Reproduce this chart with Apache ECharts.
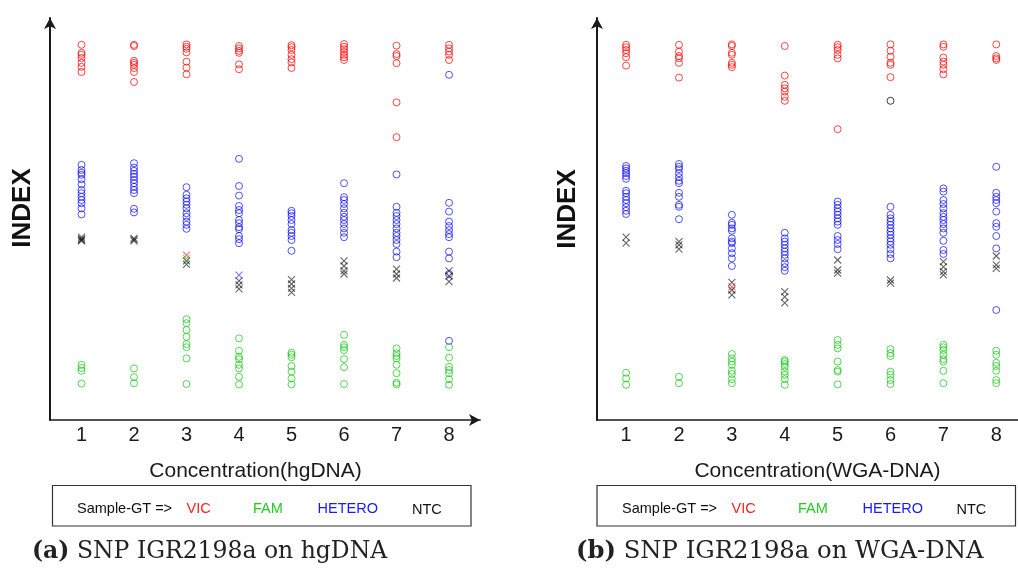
<!DOCTYPE html>
<html>
<head>
<meta charset="utf-8">
<script src="https://cdn.jsdelivr.net/npm/echarts@6/dist/echarts.min.js"></script>
<style>
html,body{margin:0;padding:0;background:#fff;}
#chart{width:1018px;height:568px;}
</style>
</head>
<body>
<div id="chart"></div>
<script>
// Column categories (concentration index)
const cols = [1, 2, 3, 4, 5, 6, 7, 8];
const xTickLabels = ['1', '2', '3', '4', '5', '6', '7', '8'];

// ---- Panel (a): hgDNA, INDEX values per column ----
const aVIC = [
  [93.8, 91.8, 91.3, 90.5, 89.3, 88.3, 87.0],
  [93.8, 93.5, 89.8, 89.3, 88.8, 88.0, 87.0, 84.5],
  [93.9, 93.3, 92.8, 91.9, 89.6, 88.1, 86.4],
  [93.5, 92.9, 92.3, 91.8, 88.9, 87.7],
  [93.7, 93.2, 92.5, 91.3, 90.2, 89.4, 88.0],
  [94.0, 93.3, 92.7, 92.0, 91.3, 90.7, 90.0],
  [93.6, 91.5, 91.0, 89.2, 79.4, 70.7],
  [93.8, 92.9, 92.1, 91.3, 90.0]
];
const aHETERO = [
  [63.8, 62.5, 61.8, 61.3, 60.2, 58.9, 57.5, 56.7, 55.8, 55.0, 54.2, 52.9, 51.4],
  [64.2, 63.1, 62.3, 61.5, 60.8, 60.0, 59.2, 58.3, 57.5, 56.7, 52.8, 51.9],
  [58.2, 56.3, 55.4, 54.6, 53.8, 52.9, 51.7, 50.8, 49.6, 48.8, 47.8],
  [65.3, 58.5, 56.1, 53.5, 52.5, 51.7, 50.0, 49.2, 48.2, 47.7, 46.0, 45.2, 44.2],
  [52.3, 51.7, 51.0, 50.0, 49.0, 47.5, 46.8, 46.0, 45.0, 42.3],
  [59.2, 55.7, 55.0, 54.0, 52.9, 51.8, 50.8, 50.0, 49.0, 47.9, 46.8, 45.7],
  [61.4, 53.3, 51.8, 51.0, 50.0, 49.0, 47.9, 46.8, 46.0, 45.0, 44.0, 42.1, 40.7],
  [86.3, 54.3, 52.1, 49.6, 48.5, 47.5, 46.5, 45.7, 42.1, 40.4, 36.5, 19.8]
];
const aFAM = [
  [13.8, 13.0, 12.3, 9.1],
  [12.9, 10.7, 9.2],
  [25.2, 24.2, 22.5, 20.8, 19.0, 18.2, 15.4, 9.0],
  [20.4, 17.3, 15.8, 15.2, 13.8, 12.9, 10.8, 8.9],
  [16.8, 16.3, 15.7, 13.5, 12.1, 10.4, 8.9],
  [21.3, 18.8, 18.2, 17.5, 15.2, 13.2, 9.0],
  [17.9, 16.7, 16.0, 15.4, 13.8, 11.7, 9.3, 8.9],
  [18.2, 15.6, 13.3, 12.5, 11.7, 10.2, 8.8]
];
const aNTC = [
  [45.7, 45.3, 45.0, 44.8],
  [45.4, 45.1, 44.8],
  [39.8, 38.9],
  [34.8, 33.8, 32.8],
  [35.1, 34.0, 32.9, 31.9],
  [39.8, 38.5, 37.3, 36.5],
  [37.7, 36.5, 35.5],
  [37.3, 36.0, 34.6]
];
const aRedCross = [[3, 41.2]];
const aGreenCross = [[3, 40.4]];
const aBlueCross = [[4, 36.2]];

// ---- Panel (b): WGA-DNA ----
const bVIC = [
  [93.8, 93.2, 92.5, 91.7, 90.7, 88.6],
  [93.8, 92.1, 91.0, 90.4, 89.3, 85.6],
  [93.9, 93.5, 91.8, 91.3, 89.3, 88.8, 88.2],
  [93.5, 86.1, 83.8, 82.9, 82.1, 80.8, 79.8],
  [93.8, 93.2, 92.5, 91.3, 90.4, 72.7],
  [93.9, 92.3, 90.8, 89.3, 88.8, 85.7],
  [93.9, 93.3, 90.6, 89.6, 88.8, 87.7, 86.4],
  [93.9, 91.0, 90.4, 90.0]
];
const bHETERO = [
  [63.5, 62.9, 62.3, 61.7, 61.0, 60.3, 57.3, 56.7, 55.8, 55.0, 54.2, 53.2, 52.3, 51.5],
  [64.0, 63.3, 62.7, 61.7, 60.7, 59.8, 59.2, 56.8, 55.8, 53.8, 53.3, 50.2],
  [51.3, 49.3, 48.8, 47.9, 47.3, 45.4, 44.6, 44.2, 42.9, 41.7, 40.4, 38.5],
  [46.8, 45.4, 44.6, 43.8, 42.9, 42.1, 41.3, 40.4, 39.2, 38.2, 37.3],
  [54.6, 53.8, 52.9, 52.1, 51.3, 50.4, 49.6, 48.8, 46.0, 45.0, 44.0, 42.7],
  [53.3, 51.3, 50.4, 49.6, 48.8, 47.9, 47.1, 46.3, 45.4, 44.6, 43.8, 42.7, 41.5, 40.4],
  [57.9, 57.1, 55.0, 54.0, 52.9, 51.7, 50.8, 50.0, 49.0, 47.9, 46.8, 44.8, 42.5, 41.5],
  [63.3, 56.8, 55.8, 55.0, 54.2, 52.1, 49.2, 48.3, 46.0, 42.9, 27.5]
];
const bFAM = [
  [11.8, 10.4, 8.8],
  [10.8, 9.2],
  [16.5, 15.4, 14.6, 13.8, 12.3, 11.5, 10.2, 9.2],
  [15.0, 14.6, 14.0, 13.3, 12.1, 11.3, 10.2, 8.8],
  [20.0, 18.8, 17.9, 14.6, 12.5, 12.1, 8.9],
  [17.7, 16.7, 16.0, 12.1, 11.3, 10.0, 9.0],
  [18.8, 18.2, 17.5, 16.3, 15.2, 14.6, 12.3, 9.2],
  [17.3, 16.3, 14.3, 13.5, 12.3, 10.0, 9.2]
];
const bNTC = [
  [45.7, 44.2],
  [44.6, 43.8, 42.7],
  [34.4, 32.5, 31.3],
  [32.1, 30.8, 29.3],
  [40.0, 37.5, 36.7],
  [35.0, 34.2],
  [39.6, 38.3, 37.1, 36.3],
  [41.0, 38.8, 37.9]
];
const bRedCross = [[3, 33.3]];
const bBlackCircle = [[6, 79.8]];

// ---- texts ----
const xTitles = ['Concentration(hgDNA)', 'Concentration(WGA-DNA)'];
const yTitle = 'INDEX';
const legendLabels = ['Sample-GT =>', 'VIC', 'FAM', 'HETERO', 'NTC'];
const captionTags = ['(a)', '(b)'];
const captionTexts = ['SNP IGR2198a on hgDNA', 'SNP IGR2198a on WGA-DNA'];

// ---- style ----
const C = {
  red: 'rgba(255,0,0,0.72)',
  green: 'rgba(20,200,20,0.72)',
  blue: 'rgba(0,0,255,0.68)',
  black: 'rgba(0,0,0,0.75)'
};
const SANS = '"Liberation Sans", Arial, sans-serif';
const CROSS = 'path://M0,0L10,10M10,0L0,10';

function flatten(arr) {
  const out = [];
  arr.forEach((vals, i) => vals.forEach(v => out.push([cols[i], v])));
  return out;
}
function circleSeries(gi, data, color) {
  return {
    type: 'scatter', xAxisIndex: gi, yAxisIndex: gi, data: data,
    symbol: 'circle', symbolSize: 7,
    itemStyle: { color: 'rgba(0,0,0,0)', borderColor: color, borderWidth: 1, opacity: 1 },
    emphasis: { disabled: true }, silent: true
  };
}
function crossSeries(gi, data, color) {
  return {
    type: 'scatter', xAxisIndex: gi, yAxisIndex: gi, data: data,
    symbol: CROSS, symbolSize: 7,
    itemStyle: { color: 'none', borderColor: color, borderWidth: 1.1 },
    emphasis: { disabled: true }, silent: true
  };
}

const grids = [
  { left: 50, top: 18, width: 430, height: 402, outerBoundsMode: 'none', containLabel: false },
  { left: 597, top: 18, width: 440, height: 402, outerBoundsMode: 'none', containLabel: false }
];
const xRanges = [[0.4, 8.59], [0.45, 8.77]];

const axisLineStyle = { color: '#1a1a1a', width: 1.7 };

const xAxes = xRanges.map((r, i) => ({
  type: 'value', gridIndex: i, min: r[0], max: r[1],
  axisLine: { show: true, onZero: false, lineStyle: axisLineStyle,
    symbol: ['none', 'arrow'], symbolSize: [9, 11] },
  axisTick: { show: false },
  splitLine: { show: false },
  axisLabel: {
    customValues: cols,
    formatter: v => xTickLabels[cols.indexOf(Math.round(v))] || '',
    fontFamily: SANS, fontSize: 20, color: '#1a1a1a', margin: 5
  }
}));
const yAxes = [0, 1].map(i => ({
  type: 'value', gridIndex: i, min: 0, max: 100.5,
  axisLine: { show: true, onZero: false, lineStyle: { color: '#1a1a1a', width: 2 },
    symbol: ['none', 'arrow'], symbolSize: [9, 11] },
  axisTick: { show: false },
  splitLine: { show: false },
  axisLabel: { show: false }
}));

const series = [
  circleSeries(0, flatten(aVIC), C.red),
  circleSeries(0, flatten(aHETERO), C.blue),
  circleSeries(0, flatten(aFAM), C.green),
  crossSeries(0, flatten(aNTC), C.black),
  crossSeries(0, aRedCross, C.red),
  crossSeries(0, aGreenCross, C.green),
  crossSeries(0, aBlueCross, C.blue),
  circleSeries(1, flatten(bVIC), C.red),
  circleSeries(1, flatten(bHETERO), C.blue),
  circleSeries(1, flatten(bFAM), C.green),
  crossSeries(1, flatten(bNTC), C.black),
  crossSeries(1, bRedCross, C.red),
  circleSeries(1, bBlackCircle, C.black)
];

// ---- graphic texts (titles, legend boxes, captions) ----
const panelDefs = [
  { yTitleX: 22.5, yTitleY: 208, xTitleX: 255.5, boxX: 52.5, boxW: 418.5,
    legX: [77, 186.5, 253, 317.5, 412], capX: 32, capSize: 23.5 },
  { yTitleX: 567.5, yTitleY: 209, xTitleX: 817.5, boxX: 597, boxW: 418.5,
    legX: [622, 731.5, 798, 862.5, 956.5], capX: 576, capSize: 24.3 }
];
const legendColors = ['#111', '#ff2020', '#22cc22', '#1a1aff', '#111'];
const graphic = [];
panelDefs.forEach((p, i) => {
  graphic.push({
    type: 'text', x: p.yTitleX, y: p.yTitleY, rotation: Math.PI / 2,
    style: { text: yTitle, font: 'bold 26px ' + SANS, fill: '#111',
      align: 'center', verticalAlign: 'middle' }, silent: true
  });
  graphic.push({
    type: 'text', x: p.xTitleX, y: 471,
    style: { text: xTitles[i], font: '21px ' + SANS, fill: '#1a1a1a',
      align: 'center', verticalAlign: 'middle' }, silent: true
  });
  graphic.push({
    type: 'rect', shape: { x: p.boxX, y: 485.5, width: p.boxW, height: 40.5 },
    style: { fill: 'none', stroke: '#333', lineWidth: 1.2 }, silent: true
  });
  legendLabels.forEach((t, k) => {
    graphic.push({
      type: 'text', x: p.legX[k], y: k === 4 ? 510 : 508.5,
      style: { text: t, font: '14.5px ' + SANS, fill: legendColors[k],
        align: 'left', verticalAlign: 'middle' }, silent: true
    });
  });
  graphic.push({
    type: 'text', x: p.capX, y: 551.5,
    style: {
      text: '{b|' + captionTags[i] + '} {n|' + captionTexts[i] + '}',
      align: 'left', verticalAlign: 'middle',
      font: p.capSize + 'px "DejaVu Serif", serif', fill: '#222',
      rich: {
        b: { fontFamily: '"DejaVu Serif", serif', fontSize: p.capSize, fontWeight: 'bold', fill: '#222' },
        n: { fontFamily: '"DejaVu Serif", serif', fontSize: p.capSize, fill: '#222' }
      }
    }, silent: true
  });
});

const chart = echarts.init(document.getElementById('chart'), null, { renderer: 'canvas' });
chart.setOption({
  animation: false,
  backgroundColor: '#ffffff',
  grid: grids,
  xAxis: xAxes,
  yAxis: yAxes,
  series: series,
  graphic: graphic
});
</script>
</body>
</html>
